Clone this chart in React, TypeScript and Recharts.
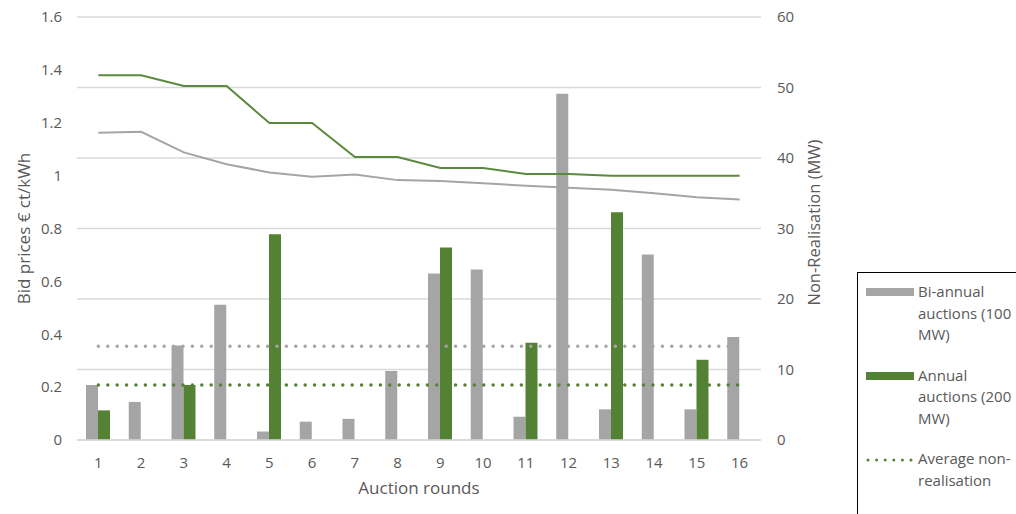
import React from 'react';
import {
  ComposedChart,
  Bar,
  Line,
  XAxis,
  YAxis,
  CartesianGrid,
} from 'recharts';

// Auction rounds on the category axis
const rounds = ['1', '2', '3', '4', '5', '6', '7', '8', '9', '10', '11', '12', '13', '14', '15', '16'];

// Non-realisation per round (MW, right axis)
const biannualMW = [7.8, 5.4, 13.4, 19.2, 1.2, 2.6, 3.0, 9.8, 23.6, 24.2, 3.3, 49.1, 4.35, 26.3, 4.35, 14.6];
const annualMW = [4.2, null, 7.8, null, 29.2, null, null, null, 27.3, null, 13.8, null, 32.3, null, 11.4, null];

// Average non-realisation (MW)
const avgBiannualMW = 13.3;
const avgAnnualMW = 7.8;

// Bid prices per round (€ ct/kWh, left axis)
const biannualPrice = [1.162, 1.166, 1.088, 1.043, 1.012, 0.996, 1.004, 0.983, 0.98, 0.971, 0.962, 0.954, 0.947, 0.933, 0.918, 0.91];
const annualPrice = [1.38, 1.38, 1.339, 1.339, 1.199, 1.199, 1.07, 1.07, 1.029, 1.029, 1.006, 1.006, 1.0, 1.0, 1.0, 1.0];

// Axis ticks
const priceTicks = [0, 0.2, 0.4, 0.6, 0.8, 1, 1.2, 1.4, 1.6];
const mwTicks = [0, 10, 20, 30, 40, 50, 60];

// Legend entries
const legendBiannual = ['Bi-annual', 'auctions (100', 'MW)'];
const legendAnnual = ['Annual', 'auctions (200', 'MW)'];
const legendAverage = ['Average non-', 'realisation'];

const GREY = '#a5a5a5';
const GREEN = '#548235';
const GREEN_LINE = '#5a8a3c';
const TEXT = '#595959';
const FONT = '"Open Sans", "Noto Sans", sans-serif';

const data = rounds.map((r, i) => ({
  round: r,
  biMW: biannualMW[i],
  anMW: annualMW[i],
  avgBi: avgBiannualMW,
  avgAn: avgAnnualMW,
  biPrice: biannualPrice[i],
  anPrice: annualPrice[i],
}));

const LeftTitle = (props: any) => {
  const vb = props.viewBox || {};
  const cx = 23;
  const cy = vb.y + vb.height / 2;
  return (
    <text
      x={cx}
      y={cy}
      transform={`rotate(-90, ${cx}, ${cy})`}
      textAnchor="middle"
      dominantBaseline="central"
      fill={TEXT}
      fontSize={17}
      fontFamily={FONT}
    >
      Bid prices € ct/kWh
    </text>
  );
};

const RightTitle = (props: any) => {
  const vb = props.viewBox || {};
  const cx = vb.x + 52;
  const cy = vb.y + vb.height / 2 - 6;
  return (
    <text
      x={cx}
      y={cy}
      transform={`rotate(-90, ${cx}, ${cy})`}
      textAnchor="middle"
      dominantBaseline="central"
      fill={TEXT}
      fontSize={16.5}
      fontFamily={FONT}
    >
      Non-Realisation (MW)
    </text>
  );
};

const LegendRow = ({ swatch, lines }: { swatch: React.ReactNode; lines: string[] }) => (
  <div style={{ display: 'flex', alignItems: 'flex-start', marginBottom: 19 }}>
    <svg width={52} height={21} style={{ flex: 'none' }}>
      {swatch}
    </svg>
    <div style={{ lineHeight: '21.5px', whiteSpace: 'nowrap' }}>
      {lines.map((l) => (
        <div key={l}>{l}</div>
      ))}
    </div>
  </div>
);

export default function App() {
  return (
    <div
      style={{
        position: 'absolute',
        left: 0,
        top: 0,
        width: 1016,
        height: 514,
        overflow: 'hidden',
        background: '#ffffff',
      }}
    >
      <ComposedChart
        width={1016}
        height={514}
        data={data}
        margin={{ top: 17, right: 0, left: 0, bottom: 44 }}
        barGap={0}
        barSize={12}
      >
        <CartesianGrid yAxisId="mw" vertical={false} stroke="#d9d9d9" strokeWidth={1.5} />
        <XAxis
          dataKey="round"
          height={30}
          axisLine={{ stroke: '#d9d9d9', strokeWidth: 1.5 }}
          tickLine={false}
          tickSize={0}
          tickMargin={17}
          tick={{ fill: TEXT, fontSize: 15, fontFamily: FONT }}
          interval={0}
          label={{
            value: 'Auction rounds',
            position: 'insideBottom',
            offset: -24,
            fill: TEXT,
            fontSize: 17,
            fontFamily: FONT,
          }}
        />
        <YAxis
          yAxisId="price"
          orientation="left"
          width={77}
          domain={[0, 1.6]}
          ticks={priceTicks}
          axisLine={false}
          tickLine={false}
          tickSize={0}
          tickMargin={15}
          tick={{ fill: TEXT, fontSize: 15, fontFamily: FONT }}
          label={<LeftTitle />}
        />
        <YAxis
          yAxisId="mw"
          orientation="right"
          width={255}
          domain={[0, 60]}
          ticks={mwTicks}
          axisLine={false}
          tickLine={false}
          tickSize={0}
          tickMargin={16}
          tick={{ fill: TEXT, fontSize: 15, fontFamily: FONT, textAnchor: 'start' }}
          label={<RightTitle />}
        />
        <Bar yAxisId="mw" dataKey="biMW" fill={GREY} isAnimationActive={false} />
        <Bar yAxisId="mw" dataKey="anMW" fill={GREEN} isAnimationActive={false} />
        <Line
          yAxisId="mw"
          dataKey="avgBi"
          stroke={GREY}
          strokeWidth={3.5}
          strokeDasharray="0 9.4"
          strokeLinecap="round"
          dot={false}
          activeDot={false}
          isAnimationActive={false}
        />
        <Line
          yAxisId="mw"
          dataKey="avgAn"
          stroke={GREEN}
          strokeWidth={3.5}
          strokeDasharray="0 9.4"
          strokeLinecap="round"
          dot={false}
          activeDot={false}
          isAnimationActive={false}
        />
        <Line
          yAxisId="price"
          dataKey="biPrice"
          type="linear"
          stroke={GREY}
          strokeWidth={2}
          dot={false}
          activeDot={false}
          isAnimationActive={false}
        />
        <Line
          yAxisId="price"
          dataKey="anPrice"
          type="linear"
          stroke={GREEN_LINE}
          strokeWidth={2}
          dot={false}
          activeDot={false}
          isAnimationActive={false}
        />
      </ComposedChart>

      <div
        style={{
          position: 'absolute',
          left: 857,
          top: 272,
          width: 220,
          height: 260,
          border: '1px solid #000000',
          boxSizing: 'border-box',
          background: '#ffffff',
          padding: '8px 0 0 8px',
          fontFamily: FONT,
          fontSize: 15,
          color: TEXT,
        }}
      >
        <LegendRow swatch={<rect x={0} y={7} width={48} height={8} fill={GREY} />} lines={legendBiannual} />
        <LegendRow swatch={<rect x={0} y={7} width={48} height={8} fill={GREEN} />} lines={legendAnnual} />
        <LegendRow
          swatch={
            <line
              x1={2}
              y1={12}
              x2={52}
              y2={12}
              stroke={GREEN}
              strokeWidth={3}
              strokeDasharray="0 8.6"
              strokeLinecap="round"
            />
          }
          lines={legendAverage}
        />
      </div>
    </div>
  );
}
